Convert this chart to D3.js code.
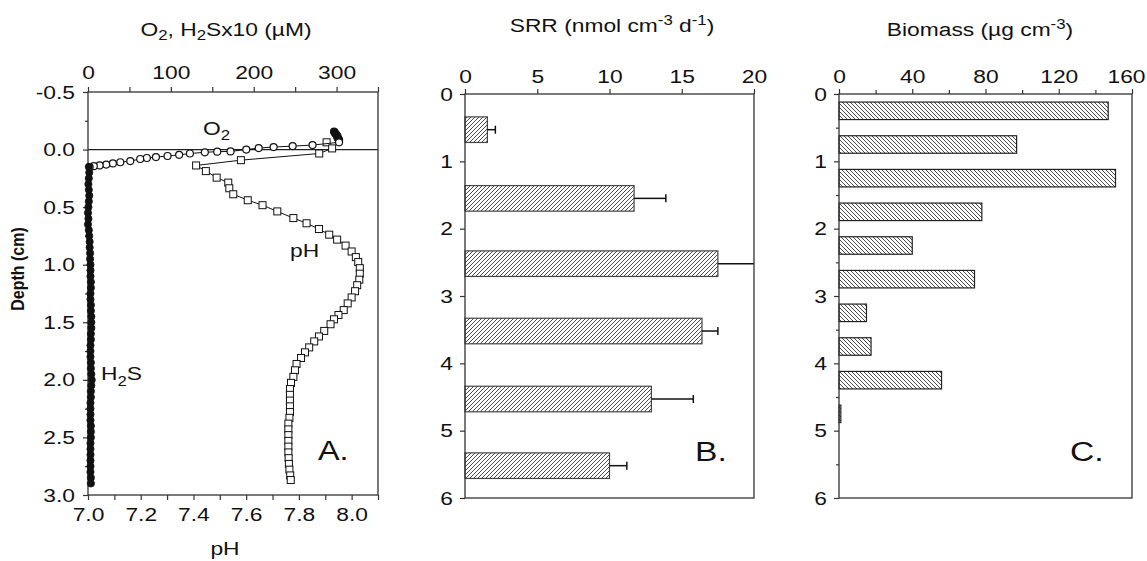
<!DOCTYPE html>
<html>
<head>
<meta charset="utf-8">
<script src="https://cdn.jsdelivr.net/npm/d3@7"></script>
<style>
  body { margin: 0; background: #fff; }
</style>
</head>
<body>
<svg id="chart" width="1147" height="561"></svg>
<script>
// ---- data ----
// panel A: O2 profile (µM) with depth (cm)
var o2Depth = [-0.155, -0.145, -0.135, -0.125, -0.115, -0.105, -0.095, -0.085, -0.075, -0.063,
    -0.039, -0.030, -0.022, -0.013, 0.000, 0.016, 0.018, 0.024, 0.034, 0.046,
    0.056, 0.065, 0.073, 0.082, 0.100, 0.110, 0.120, 0.130, 0.138, 0.144, 0.152];
var o2Conc = [297, 298, 299, 300, 301, 301, 302, 303, 303, 303,
    271, 247, 224, 206, 191, 172, 156, 141, 123, 110,
    96, 82, 71, 63, 51, 39, 30, 22, 14, 7, 2];

// panel A: H2S x10 (µM)
var h2sDepth = [0.15, 0.20, 0.25, 0.30, 0.35, 0.40, 0.45, 0.50, 0.55, 0.60,
    0.65, 0.70, 0.75, 0.80, 0.85, 0.90, 0.95, 1.00, 1.05, 1.10,
    1.15, 1.20, 1.25, 1.30, 1.35, 1.40, 1.45, 1.50, 1.55, 1.60,
    1.65, 1.70, 1.75, 1.80, 1.85, 1.90, 1.95, 2.00, 2.05, 2.10,
    2.15, 2.20, 2.25, 2.30, 2.35, 2.40, 2.45, 2.50, 2.55, 2.60,
    2.65, 2.70, 2.75, 2.80, 2.85, 2.90];
var h2sConc = [1.0, 1.5, 1.0, 0.5, 1.0, 1.5, 1.0, 0.5, 0.0, 0.5,
    0.0, 1.0, 1.5, 2.0, 2.0, 2.5, 2.5, 3.0, 3.0, 3.0,
    3.5, 3.5, 3.0, 3.0, 3.5, 3.5, 4.0, 4.0, 4.0, 3.5,
    3.5, 3.0, 3.0, 3.0, 3.5, 3.5, 4.0, 4.5, 4.0, 3.5,
    3.5, 3.0, 3.0, 3.0, 3.0, 3.5, 3.5, 3.5, 3.0, 3.0,
    3.0, 3.0, 3.0, 3.0, 3.5, 3.5];

// panel A: pH profile
var phDepth = [-0.063, -0.010, 0.034, 0.092, 0.138, 0.187, 0.244, 0.287, 0.336, 0.388,
    0.440, 0.483, 0.537, 0.595, 0.640, 0.690, 0.739, 0.782, 0.834, 0.885,
    0.934, 0.977, 1.030, 1.078, 1.130, 1.178, 1.230, 1.284, 1.336, 1.394,
    1.437, 1.474, 1.517, 1.575, 1.623, 1.666, 1.718, 1.761, 1.810, 1.862,
    1.917, 1.974, 2.026, 2.080, 2.130, 2.180, 2.230, 2.280, 2.330, 2.380,
    2.430, 2.480, 2.530, 2.580, 2.630, 2.680, 2.730, 2.780, 2.830, 2.870];
var phValue = [7.905, 7.926, 7.877, 7.580, 7.410, 7.447, 7.488, 7.532, 7.536, 7.551,
    7.606, 7.662, 7.718, 7.779, 7.829, 7.876, 7.915, 7.945, 7.977, 8.000,
    8.016, 8.025, 8.031, 8.031, 8.029, 8.021, 8.013, 8.000, 7.985, 7.970,
    7.950, 7.933, 7.920, 7.896, 7.876, 7.858, 7.839, 7.823, 7.808, 7.791,
    7.785, 7.779, 7.770, 7.766, 7.766, 7.766, 7.766, 7.766, 7.764, 7.760,
    7.760, 7.760, 7.760, 7.760, 7.760, 7.761, 7.762, 7.764, 7.767, 7.769];

// panel B: sulfate reduction rate
var srrDepth = [0.53, 1.55, 2.52, 3.52, 4.53, 5.52];
var srrValue = [1.55, 11.7, 17.5, 16.4, 12.9, 10.0];
var srrError = [0.55, 2.2, 3.0, 1.1, 2.9, 1.2];

// panel C: biomass
var bioDepth = [0.25, 0.75, 1.25, 1.75, 2.25, 2.75, 3.25, 3.75, 4.25, 4.75];
var bioValue = [147, 97, 151, 78, 40, 74, 15, 17.5, 56, 1];

// ticks
var o2Ticks = [0, 100, 200, 300];
var o2Minor = [50, 150, 250, 350];
var phTicks = [7.0, 7.2, 7.4, 7.6, 7.8, 8.0];
var phMinor = [7.1, 7.3, 7.5, 7.7, 7.9, 8.1];
var depthTicksA = [-0.5, 0.0, 0.5, 1.0, 1.5, 2.0, 2.5, 3.0];
var depthMinorA = [-0.25, 0.25, 0.75, 1.25, 1.75, 2.25, 2.75];
var srrTicks = [0, 5, 10, 15, 20];
var bioTicks = [0, 40, 80, 120, 160];
var bioMinor = [20, 60, 100, 140];
var depthTicksBC = [0, 1, 2, 3, 4, 5, 6];
var depthMinorC = [0.5, 1.5, 2.5, 3.5, 4.5, 5.5];

// ---- drawing ----
var FONT = '"Liberation Sans", Arial, sans-serif',
    SX = 1.2,           // the figure is stretched sideways
    axisColor = '#333',
    hatchColor = '#333';

var svg = d3.select('#chart');
svg.append('rect').attr('width', 1147).attr('height', 561).attr('fill', '#fff');

var defs = svg.append('defs');
// "////" hatch for SRR, "\\\\" hatch for biomass
defs.append('pattern').attr('id', 'hatchB').attr('patternUnits', 'userSpaceOnUse')
    .attr('width', 4).attr('height', 4)
    .append('path').attr('d', 'M-1,1 l2,-2 M0,4 l4,-4 M3,5 l2,-2')
    .attr('stroke', hatchColor).attr('stroke-width', 0.9);
defs.append('pattern').attr('id', 'hatchC').attr('patternUnits', 'userSpaceOnUse')
    .attr('width', 4).attr('height', 4)
    .append('path').attr('d', 'M-1,3 l2,2 M0,0 l4,4 M3,-1 l2,2')
    .attr('stroke', hatchColor).attr('stroke-width', 0.9);

// text placed with the sideways stretch
function label(x, y, anchor, size, weight) {
    var g = svg.append('g').attr('transform', 'translate(' + x + ',' + y + ') scale(' + SX + ',1)');
    return g.append('text')
        .attr('text-anchor', anchor)
        .attr('font-family', FONT)
        .attr('font-size', size)
        .attr('font-weight', weight || 'normal')
        .attr('fill', '#111');
}

function styleAxis(g) {
    g.attr('font-family', FONT).attr('font-size', 19);
    g.select('.domain').remove();
    g.selectAll('line').attr('stroke', axisColor).attr('stroke-width', 1.2);
    g.selectAll('text').attr('fill', '#111').each(function () {
        var t = d3.select(this);
        var x = +t.attr('x') || 0;
        t.attr('x', x / SX).attr('transform', 'scale(' + SX + ',1)');
    });
}

function frame(x0, x1, y0, y1) {
    svg.append('rect')
        .attr('x', x0).attr('y', y0)
        .attr('width', x1 - x0).attr('height', y1 - y0)
        .attr('fill', 'none').attr('stroke', axisColor).attr('stroke-width', 1.3);
}

var fmt1 = function (d) { return d.toFixed(1); },
    fmt0 = function (d) { return String(d); };

// ---------- panel A ----------
var A = {x0: 88, x1: 378, y0: 92, y1: 495};
var o2X = d3.scaleLinear().domain([0, 350]).range([A.x0, A.x1]);
var phX = d3.scaleLinear().domain([7.0, 8.1]).range([A.x0, A.x1]);
var depthA = d3.scaleLinear().domain([-0.5, 3.0]).range([A.y0, A.y1]);

svg.append('g').attr('transform', 'translate(0,' + A.y0 + ')')
    .call(d3.axisTop(o2X).tickValues(o2Ticks).tickSize(5).tickPadding(8).tickFormat(fmt0)).call(styleAxis);
svg.append('g').attr('transform', 'translate(0,' + A.y0 + ')')
    .call(d3.axisTop(o2X).tickValues(o2Minor).tickSize(5).tickFormat('')).call(styleAxis);
svg.append('g').attr('transform', 'translate(0,' + A.y1 + ')')
    .call(d3.axisBottom(phX).tickValues(phTicks).tickSize(5).tickPadding(8).tickFormat(fmt1)).call(styleAxis);
svg.append('g').attr('transform', 'translate(0,' + A.y1 + ')')
    .call(d3.axisBottom(phX).tickValues(phMinor).tickSize(5).tickFormat('')).call(styleAxis);
svg.append('g').attr('transform', 'translate(' + A.x0 + ',0)')
    .call(d3.axisLeft(depthA).tickValues(depthTicksA).tickSize(5).tickPadding(8).tickFormat(fmt1)).call(styleAxis);
svg.append('g').attr('transform', 'translate(' + A.x0 + ',0)')
    .call(d3.axisLeft(depthA).tickValues(depthMinorA).tickSize(3).tickFormat('')).call(styleAxis);
frame(A.x0, A.x1, A.y0, A.y1);

// sediment surface
svg.append('line')
    .attr('x1', A.x0).attr('x2', A.x1)
    .attr('y1', depthA(0)).attr('y2', depthA(0))
    .attr('stroke', '#222').attr('stroke-width', 1.2);

var phPts = phDepth.map(function (d, i) { return [phX(phValue[i]), depthA(d)]; });
var o2Pts = o2Depth.map(function (d, i) { return [o2X(o2Conc[i]), depthA(d), d]; });
var h2sPts = h2sDepth.map(function (d, i) { return [o2X(h2sConc[i]), depthA(d)]; });
var line = d3.line().x(function (p) { return p[0]; }).y(function (p) { return p[1]; });

svg.append('path').attr('d', line(phPts)).attr('fill', 'none').attr('stroke', '#111').attr('stroke-width', 1);
svg.append('g').selectAll('rect').data(phPts).join('rect')
    .attr('x', function (p) { return p[0] - 3.5; })
    .attr('y', function (p) { return p[1] - 3.5; })
    .attr('width', 7).attr('height', 7)
    .attr('fill', '#fff').attr('stroke', '#111').attr('stroke-width', 1);

svg.append('path').attr('d', line(o2Pts)).attr('fill', 'none').attr('stroke', '#111').attr('stroke-width', 1);
svg.append('g').selectAll('circle').data(o2Pts).join('circle')
    .attr('cx', function (p) { return p[0]; })
    .attr('cy', function (p) { return p[1]; })
    .attr('r', 3.5)
    // water-column readings sit on top of each other and read as a solid blob
    .attr('fill', function (p) { return p[2] < -0.07 ? '#111' : '#fff'; })
    .attr('stroke', '#111').attr('stroke-width', 1.2);

svg.append('path').attr('d', line(h2sPts)).attr('fill', 'none').attr('stroke', '#111').attr('stroke-width', 1);
svg.append('g').selectAll('circle').data(h2sPts).join('circle')
    .attr('cx', function (p) { return p[0]; })
    .attr('cy', function (p) { return p[1]; })
    .attr('r', 3.6)
    .attr('fill', '#111').attr('stroke', '#111').attr('stroke-width', 0.8);

// panel A text
var tA = label(226, 36, 'middle', 19);
tA.append('tspan').text('O');
tA.append('tspan').attr('font-size', 14).attr('dy', 4).text('2');
tA.append('tspan').attr('dy', -4).text(', H');
tA.append('tspan').attr('font-size', 14).attr('dy', 4).text('2');
tA.append('tspan').attr('dy', -4).text('Sx10 (µM)');

var tO2 = label(203, 135, 'start', 19);
tO2.append('tspan').text('O');
tO2.append('tspan').attr('font-size', 14).attr('dy', 5).text('2');

var tH2S = label(101, 380, 'start', 19);
tH2S.append('tspan').text('H');
tH2S.append('tspan').attr('font-size', 14).attr('dy', 6).text('2');
tH2S.append('tspan').attr('dy', -6).text('S');

label(290, 257, 'start', 19).text('pH');
label(318, 460, 'start', 27).text('A.');
label(225, 555, 'middle', 19).text('pH');

label(24, 269, 'middle', 16, 'bold').attr('transform', 'rotate(-90)').text('Depth (cm)');

// ---------- panel B ----------
var B = {x0: 465, x1: 754, y0: 94, y1: 498};
var srrX = d3.scaleLinear().domain([0, 20]).range([B.x0, B.x1]);
var depthB = d3.scaleLinear().domain([0, 6]).range([B.y0, B.y1]);
var barB = depthB(0.38) - depthB(0);

svg.append('g').attr('transform', 'translate(0,' + B.y0 + ')')
    .call(d3.axisTop(srrX).tickValues(srrTicks).tickSize(5).tickPadding(6).tickFormat(fmt0)).call(styleAxis);
svg.append('g').attr('transform', 'translate(' + B.x0 + ',0)')
    .call(d3.axisLeft(depthB).tickValues(depthTicksBC).tickSize(5).tickPadding(7).tickFormat(fmt0)).call(styleAxis);

defs.append('clipPath').attr('id', 'clipB').append('rect')
    .attr('x', B.x0).attr('y', B.y0).attr('width', B.x1 - B.x0).attr('height', B.y1 - B.y0);

svg.append('g').selectAll('rect').data(srrValue).join('rect')
    .attr('x', srrX(0))
    .attr('y', function (d, i) { return depthB(srrDepth[i]) - barB / 2; })
    .attr('width', function (d) { return srrX(d) - srrX(0); })
    .attr('height', barB)
    .attr('fill', 'url(#hatchB)').attr('stroke', '#444').attr('stroke-width', 1.2);

var errG = svg.append('g').attr('clip-path', 'url(#clipB)');
errG.selectAll('line.err').data(srrValue).join('line').attr('class', 'err')
    .attr('x1', function (d) { return srrX(d); })
    .attr('x2', function (d, i) { return srrX(d + srrError[i]); })
    .attr('y1', function (d, i) { return depthB(srrDepth[i]); })
    .attr('y2', function (d, i) { return depthB(srrDepth[i]); })
    .attr('stroke', '#111').attr('stroke-width', 1.5);
errG.selectAll('line.cap').data(srrValue).join('line').attr('class', 'cap')
    .attr('x1', function (d, i) { return srrX(d + srrError[i]); })
    .attr('x2', function (d, i) { return srrX(d + srrError[i]); })
    .attr('y1', function (d, i) { return depthB(srrDepth[i]) - 4; })
    .attr('y2', function (d, i) { return depthB(srrDepth[i]) + 4; })
    .attr('stroke', '#111').attr('stroke-width', 1.5);
frame(B.x0, B.x1, B.y0, B.y1);

var tB = label(612, 32, 'middle', 19);
tB.append('tspan').text('SRR (nmol cm');
tB.append('tspan').attr('font-size', 14).attr('dy', -7).text('-3');
tB.append('tspan').attr('dy', 7).text(' d');
tB.append('tspan').attr('font-size', 14).attr('dy', -7).text('-1');
tB.append('tspan').attr('dy', 7).text(')');
label(695, 461, 'start', 28).text('B.');

// ---------- panel C ----------
var C = {x0: 839, x1: 1132, y0: 94, y1: 498};
var bioX = d3.scaleLinear().domain([0, 160]).range([C.x0, C.x1]);
var depthC = d3.scaleLinear().domain([0, 6]).range([C.y0, C.y1]);
var barC = depthC(0.26) - depthC(0);

var bioAxis = svg.append('g').attr('transform', 'translate(0,' + C.y0 + ')')
    .call(d3.axisTop(bioX).tickValues(bioTicks).tickSize(5).tickPadding(6).tickFormat(fmt0)).call(styleAxis);
// the last label sits a little left of its tick so it stays on the page
bioAxis.selectAll('text').filter(function (d) { return d === 160; }).attr('x', -6 / SX);
svg.append('g').attr('transform', 'translate(0,' + C.y0 + ')')
    .call(d3.axisTop(bioX).tickValues(bioMinor).tickSize(4).tickFormat('')).call(styleAxis);
svg.append('g').attr('transform', 'translate(' + C.x0 + ',0)')
    .call(d3.axisLeft(depthC).tickValues(depthTicksBC).tickSize(5).tickPadding(7).tickFormat(fmt0)).call(styleAxis);
svg.append('g').attr('transform', 'translate(' + C.x0 + ',0)')
    .call(d3.axisLeft(depthC).tickValues(depthMinorC).tickSize(3).tickFormat('')).call(styleAxis);

svg.append('g').selectAll('rect').data(bioValue).join('rect')
    .attr('x', bioX(0))
    .attr('y', function (d, i) { return depthC(bioDepth[i]) - barC / 2; })
    .attr('width', function (d) { return bioX(d) - bioX(0); })
    .attr('height', barC)
    .attr('fill', 'url(#hatchC)').attr('stroke', '#222').attr('stroke-width', 1.2);
frame(C.x0, C.x1, C.y0, C.y1);

var tC = label(980, 36, 'middle', 19);
tC.append('tspan').text('Biomass (µg cm');
tC.append('tspan').attr('font-size', 14).attr('dy', -7).text('-3');
tC.append('tspan').attr('dy', 7).text(')');
label(1070, 461, 'start', 28).text('C.');
</script>
</body>
</html>
